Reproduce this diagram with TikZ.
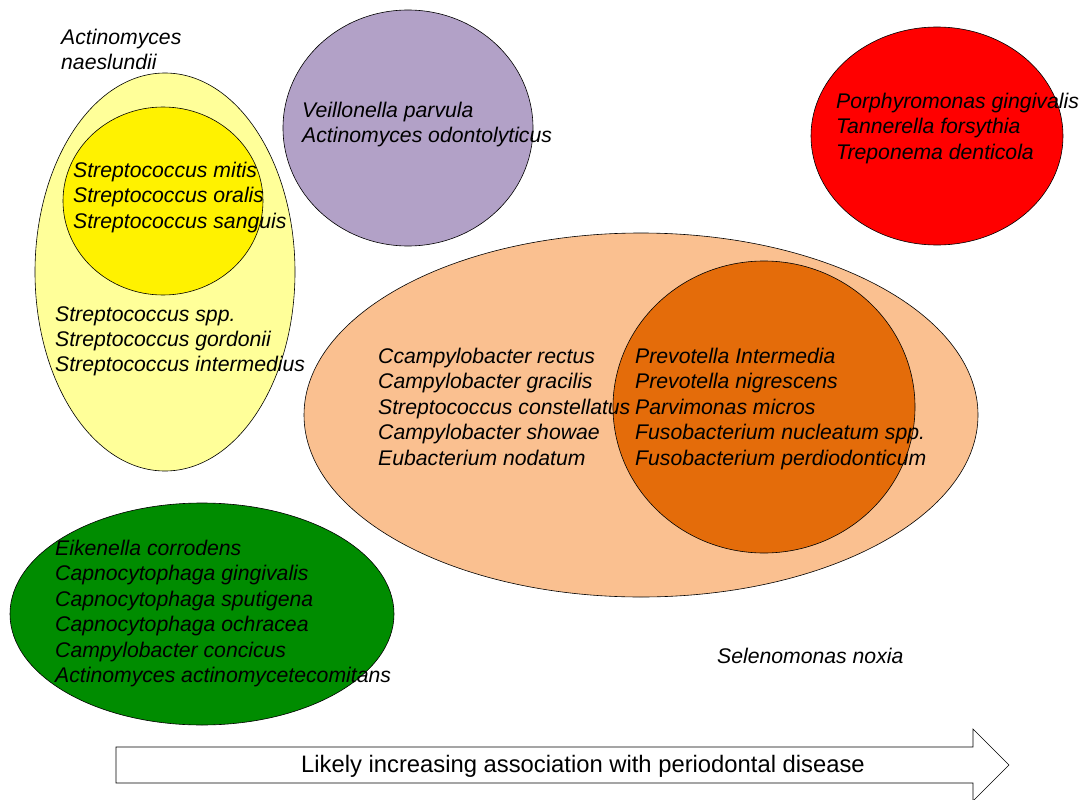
\documentclass[tikz,border=0pt]{standalone}
\usepackage{fontspec}
\setmainfont{Liberation Sans}
\usetikzlibrary{shapes.geometric}
\definecolor{paleyellow}{HTML}{FFFF99}
\definecolor{lavender}{HTML}{B2A1C7}
\definecolor{peach}{HTML}{FAC090}
\definecolor{burnt}{HTML}{E46C0A}
\definecolor{leaf}{RGB}{0,140,0}

\begin{document}
\begin{tikzpicture}[x=1pt,y=-1pt,
    blob/.style={draw,ellipse,inner sep=0pt,line width=0.6pt},
    species/.style={align=left,anchor=north west,inner sep=0pt,
      font=\fontsize{21.2}{25.4}\selectfont\itshape}]
  \useasboundingbox (0,0) rectangle (1079,800);
  % complexes
  \node[blob,fill=paleyellow,minimum width=260pt,minimum height=398pt] (yellowout) at (165,272) {};
  \node[blob,fill=yellow,minimum width=200pt,minimum height=188pt] (yellowin) at (163,201) {};
  \node[blob,fill=lavender,minimum width=250pt,minimum height=236pt] (purple) at (408,128) {};
  \node[blob,fill=red,minimum width=252pt,minimum height=218pt] (red) at (937,136) {};
  \node[blob,fill=peach,minimum width=674pt,minimum height=364pt] (orangeout) at (641,415) {};
  \node[blob,fill=burnt,minimum width=302pt,minimum height=292pt] (orangein) at (764,407) {};
  \node[blob,fill=leaf,minimum width=384pt,minimum height=222pt] (green) at (202,614) {};
  % species
  \node[species] (naeslundii) at (61,29) {Actinomyces\\naeslundii};
  \node[species] (mitis) at (73,162) {Streptococcus mitis\\Streptococcus oralis\\Streptococcus sanguis};
  \node[species] (gordonii) at (55,306) {Streptococcus spp.\\Streptococcus gordonii\\Streptococcus intermedius};
  \node[species] (parvula) at (302,102) {Veillonella parvula\\Actinomyces odontolyticus};
  \node[species] (gingivalis) at (836,93) {Porphyromonas gingivalis\\Tannerella forsythia\\Treponema denticola};
  \node[species] (rectus) at (378,348) {Ccampylobacter rectus\\Campylobacter gracilis\\Streptococcus constellatus\\Campylobacter showae\\Eubacterium nodatum};
  \node[species] (intermedia) at (635,348) {Prevotella Intermedia\\Prevotella nigrescens\\Parvimonas micros\\Fusobacterium nucleatum spp.\\Fusobacterium perdiodonticum};
  \node[species] (corrodens) at (55,540) {Eikenella corrodens\\Capnocytophaga gingivalis\\Capnocytophaga sputigena\\Capnocytophaga ochracea\\Campylobacter concicus\\Actinomyces actinomycetecomitans};
  \node[species] (noxia) at (717,648) {Selenomonas noxia};
  % trend arrow
  \draw[fill=white,line width=0.6pt] (116,747) -- (973,747) -- (973,729) -- (1009,765)
    -- (973,801) -- (973,783) -- (116,783) -- cycle;
  \node[font=\fontsize{23.8}{28}\selectfont] (trend) at (583,766) {Likely increasing association with periodontal disease};
\end{tikzpicture}
\end{document}
